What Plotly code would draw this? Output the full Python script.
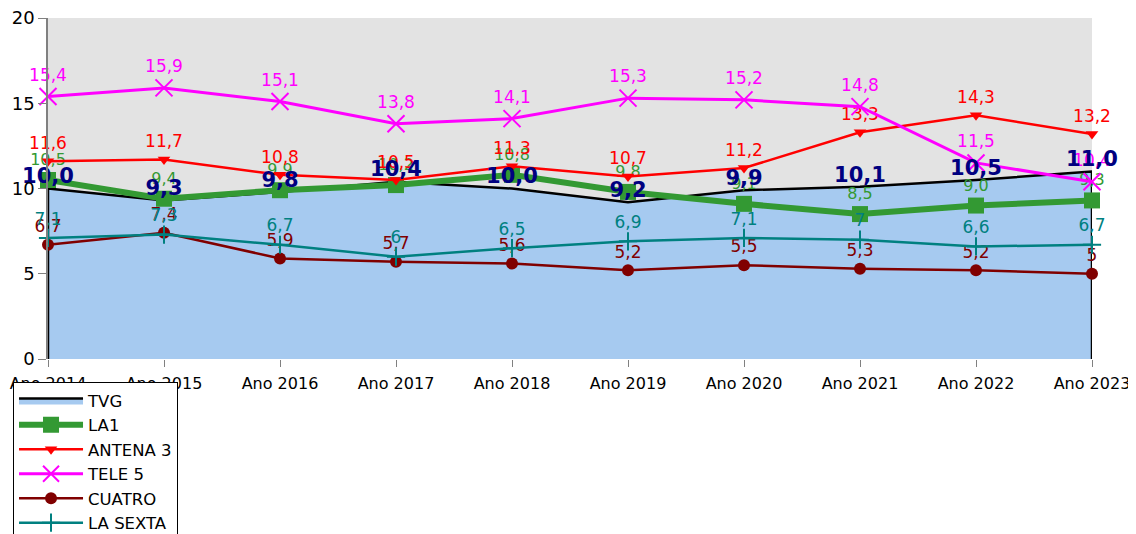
import plotly.graph_objects as go

years = ["Ano 2014", "Ano 2015", "Ano 2016", "Ano 2017", "Ano 2018",
         "Ano 2019", "Ano 2020", "Ano 2021", "Ano 2022", "Ano 2023"]
tvg = [10.0, 9.3, 9.8, 10.4, 10.0, 9.2, 9.9, 10.1, 10.5, 11.0]
la1 = [10.5, 9.4, 9.9, 10.2, 10.8, 9.8, 9.1, 8.5, 9.0, 9.3]
antena3 = [11.6, 11.7, 10.8, 10.5, 11.3, 10.7, 11.2, 13.3, 14.3, 13.2]
tele5 = [15.4, 15.9, 15.1, 13.8, 14.1, 15.3, 15.2, 14.8, 11.5, 10.4]
cuatro = [6.7, 7.4, 5.9, 5.7, 5.6, 5.2, 5.5, 5.3, 5.2, 5]
lasexta = [7.1, 7.3, 6.7, 6, 6.5, 6.9, 7.1, 7, 6.6, 6.7]
y_ticks = [0, 5, 10, 15, 20]

FONT = "DejaVu Sans"


def fixed1(vals):
    return [f"{v:.1f}".replace(".", ",") for v in vals]


def general(vals):
    return [f"{v:g}".replace(".", ",") for v in vals]


fig = go.Figure()

# TVG area (closed polygon from data)
fig.add_trace(go.Scatter(
    x=[years[0]] + years + [years[-1]],
    y=[0] + tvg + [0],
    mode="lines", fill="toself", fillcolor="#A6CAF0",
    line=dict(color="black", width=2.5),
    name="TVG", cliponaxis=False, hoverinfo="skip",
))

series = [
    ("LA1", la1, "#339933", 6, dict(symbol="square", size=16), fixed1(la1), 16),
    ("ANTENA 3", antena3, "#FF0000", 2.5, dict(symbol="triangle-down", size=11), fixed1(antena3), 17),
    ("TELE 5", tele5, "#FF00FF", 3, dict(symbol="x-thin-open", size=17, line=dict(width=2, color="#FF00FF")), fixed1(tele5), 17),
    ("CUATRO", cuatro, "#800000", 2.5, dict(symbol="circle", size=12), general(cuatro), 17),
    ("LA SEXTA", lasexta, "#008080", 2.5, dict(symbol="cross-thin-open", size=13, line=dict(width=2, color="#008080")), general(lasexta), 17),
]

for name, vals, color, lw, marker, txt, fs in series:
    fig.add_trace(go.Scatter(
        x=years, y=vals, name=name,
        mode="lines+markers+text",
        line=dict(color=color, width=lw),
        marker=dict(color=color, **marker),
        text=txt, textposition="top center",
        textfont=dict(family=FONT, size=fs, color=color),
        cliponaxis=False,
    ))

# TVG labels on top
fig.add_trace(go.Scatter(
    x=years, y=tvg, mode="text", text=fixed1(tvg),
    textposition="top center",
    textfont=dict(family=FONT, size=21, color="#000080", weight="bold"),
    showlegend=False, cliponaxis=False, hoverinfo="skip",
))

fig.update_layout(
    width=1136, height=534,
    margin=dict(l=40, r=52, t=10, b=183, autoexpand=False),
    paper_bgcolor="white", plot_bgcolor="#E3E3E3",
    font=dict(family=FONT, color="black"),
    showlegend=True,
    legend=dict(
        x=-0.0335, y=-0.068, xanchor="left", yanchor="top",
        bgcolor="white", bordercolor="black", borderwidth=1,
        font=dict(family=FONT, size=16.5, color="black"),
        tracegroupgap=0, itemwidth=64,
    ),
    xaxis=dict(
        type="category", range=[0, len(years) - 1],
        showgrid=False, zeroline=False, automargin=False,
        ticks="outside", ticklen=7, tickcolor="#808080",
        ticklabelstandoff=3, ticklabeloverflow="allow",
        tickfont=dict(family=FONT, size=16),
        showline=False,
    ),
    yaxis=dict(
        range=[0, 20], tickvals=y_ticks, showgrid=False, zeroline=False,
        automargin=False, ticklabeloverflow="allow",
        ticks="outside", ticklen=8, tickcolor="#808080",
        showline=True, linecolor="#808080", linewidth=1.5,
        tickfont=dict(family=FONT, size=18),
    ),
)

fig.write_html("out.html")
